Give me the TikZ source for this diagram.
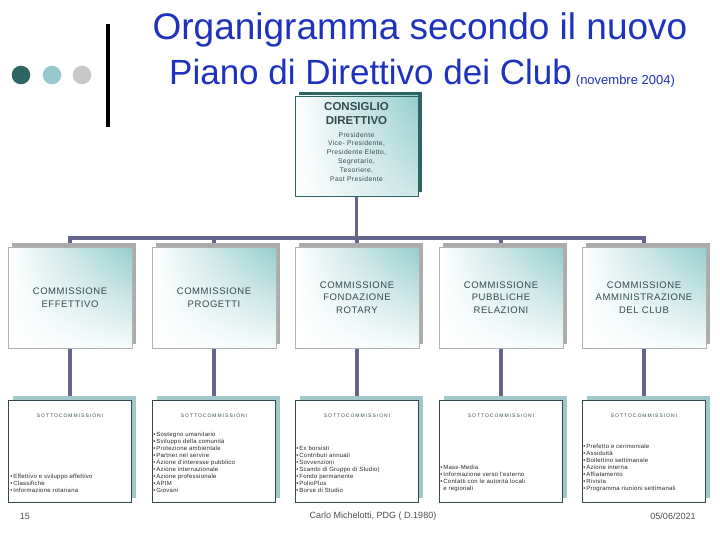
\documentclass[tikz,border=0pt]{standalone}
\usepackage{fontspec}
\setmainfont{Liberation Sans}
\newfontfamily\spc[LetterSpace=6]{Liberation Sans}
\newfontfamily\spcw[LetterSpace=20]{Liberation Sans}
\newfontfamily\spcl[LetterSpace=4]{Liberation Sans}
\usetikzlibrary{shadows,shadings}
\pgfdeclarelayer{bg}
\pgfsetlayers{bg,main}
\definecolor{ttl}{RGB}{30,50,190}
\definecolor{tealD}{RGB}{45,100,100}
\definecolor{tealL}{RGB}{150,200,205}
\definecolor{grayL}{RGB}{200,200,200}
\definecolor{conncol}{RGB}{100,100,140}
\definecolor{txt}{RGB}{50,75,80}
\definecolor{shadeT}{RGB}{150,205,205}
\definecolor{subsh}{RGB}{160,200,200}
\definecolor{foot}{RGB}{80,80,80}
\tikzset{
  topbox/.style={draw=tealD, line width=0.8pt, minimum width=123pt, minimum height=100pt, inner sep=0pt,
    shade, upper left=white, lower left=white, upper right=shadeT, lower right=shadeT!50,
    drop shadow={shadow xshift=4pt, shadow yshift=4pt, fill=tealD, opacity=1}},
  toptxt/.style={text=txt, align=center, inner sep=0pt},
  combox/.style={draw=gray!60, line width=0.6pt, minimum width=124pt, minimum height=101pt, inner sep=0pt,
    shade, upper left=white, lower left=white, upper right=shadeT, lower right=shadeT!8,
    drop shadow={shadow xshift=4pt, shadow yshift=4pt, fill=gray!65, opacity=1},
    text=txt, align=center, font=\spc\fontsize{9.5}{12.5}\selectfont},
  subbox/.style={draw=txt, line width=0.8pt, fill=white, minimum width=123pt, minimum height=102pt, inner sep=0pt,
    drop shadow={shadow xshift=4pt, shadow yshift=4pt, fill=subsh, opacity=1}},
  subttl/.style={text=txt, font=\spcw\fontsize{5}{6}\selectfont, inner sep=0pt},
  sublist/.style={anchor=south west, align=left, text=black!85, inner sep=0pt, font=\spcl\fontsize{6}{7}\selectfont},
  connline/.style={draw=conncol, line width=3.4pt},
  foottxt/.style={text=foot, font=\fontsize{9}{10}\selectfont, inner sep=0pt},
}
\begin{document}
\begin{tikzpicture}[x=1pt,y=-1pt]
\useasboundingbox (0,0) rectangle (720,540);
% decoration
\fill[tealD] (21,75) circle (9.3);
\fill[tealL] (52,75) circle (9.3);
\fill[grayL] (82,75) circle (9.3);
\draw[line width=3.5pt] (108,24) -- (108,127);
% title
\node[text=ttl, font=\fontsize{37}{40}\selectfont, anchor=base, inner sep=0pt] (t1) at (420,40) {Organigramma secondo il nuovo};
\node[text=ttl, font=\fontsize{35}{40}\selectfont, anchor=base west, inner sep=0pt] (t2) at (169,85) {Piano di Direttivo dei Club};
\node[text=ttl, font=\fontsize{13}{14}\selectfont, anchor=base west, inner sep=0pt] (t3) at (t2.base east) {\ (novembre 2004)};
% top box
\node[topbox] (top) at (356.5,146) {};
\node[toptxt, font=\bfseries\fontsize{11.5}{14.5}\selectfont, anchor=north] (topa) at (356.5,102) {CONSIGLIO\\DIRETTIVO};
\node[toptxt, font=\spc\fontsize{6.7}{8.8}\selectfont, anchor=north] (topb) at (356.5,132) {Presidente\\Vice- Presidente,\\Presidente Eletto,\\Segretario,\\Tesoriere,\\Past Presidente};
% commissions
\node[combox] (c1) at (70,297.5) {COMMISSIONE\\EFFETTIVO};
\node[combox] (c2) at (214,297.5) {COMMISSIONE\\PROGETTI};
\node[combox] (c3) at (357,297.5) {COMMISSIONE\\FONDAZIONE\\ROTARY};
\node[combox] (c4) at (501,297.5) {COMMISSIONE\\PUBBLICHE\\RELAZIONI};
\node[combox] (c5) at (644,297.5) {COMMISSIONE\\AMMINISTRAZIONE\\DEL CLUB};
% sub boxes
\node[subbox] (s1) at (70,451) {};
\node[subbox] (s2) at (214,451) {};
\node[subbox] (s3) at (357,451) {};
\node[subbox] (s4) at (501,451) {};
\node[subbox] (s5) at (644,451) {};
\foreach \i in {1,...,5} {\node[subttl] (st\i) at ([yshift=-16pt]s\i.north) {SOTTOCOMMISSIONI};}
\node[sublist] (l1) at ([xshift=2pt,yshift=10pt]s1.south west) {\textbullet\,Effettivo e sviluppo effettivo\\\textbullet\,Classifiche\\\textbullet\,Informazione rotariana};
\node[sublist] (l2) at ([xshift=1pt,yshift=10pt]s2.south west) {\textbullet\,Sostegno umanitario\\\textbullet\,Sviluppo della comunità\\\textbullet\,Protezione ambientale\\\textbullet\,Partner nel servire\\\textbullet\,Azione d'interesse pubblico\\\textbullet\,Azione internazionale\\\textbullet\,Azione professionale\\\textbullet\,APIM\\\textbullet\,Giovani};
\node[sublist] (l3) at ([xshift=1pt,yshift=10pt]s3.south west) {\textbullet\,Ex borsisti\\\textbullet\,Contributi annuali\\\textbullet\,Sovvenzioni\\\textbullet\,Scambi di Gruppo di Studio)\\\textbullet\,Fondo permanente\\\textbullet\,PolioPlus\\\textbullet\,Borse di Studio};
\node[sublist] (l4) at ([xshift=1pt,yshift=10pt]s4.south west) {\textbullet\,Mass-Media\\\textbullet\,Informazione verso l'esterno\\\textbullet\,Contatti con le autorità locali\\\hspace*{3pt}e regionali};
\node[sublist] (l5) at ([xshift=1pt,yshift=10pt]s5.south west) {\textbullet\,Prefetto e cerimoniale\\\textbullet\,Assiduità\\\textbullet\,Bollettino settimanale\\\textbullet\,Azione interna\\\textbullet\,Affiatamento\\\textbullet\,Rivista\\\textbullet\,Programma riunioni settimanali};
% connectors
\coordinate (j0) at (357,238);
\begin{pgfonlayer}{bg}
\fill[white] (0,0) rectangle (720,540);
\draw[connline] (top.south) -- (top.south |- j0);
\draw[connline] (c1.north) -- (c1.north |- j0) -- (c5.north |- j0) -- (c5.north);
\foreach \i in {2,3,4} {\draw[connline] (c\i.north) -- (c\i.north |- j0);}
\foreach \i in {1,...,5} {\draw[connline] (c\i.south) -- (s\i.north);}
\end{pgfonlayer}
% footer
\node[foottxt] (f1) at (25,516) {15};
\node[foottxt] (f2) at (373,516) {Carlo Michelotti, PDG ( D.1980)};
\node[foottxt] (f3) at (673,516) {05/06/2021};
\end{tikzpicture}
\end{document}
